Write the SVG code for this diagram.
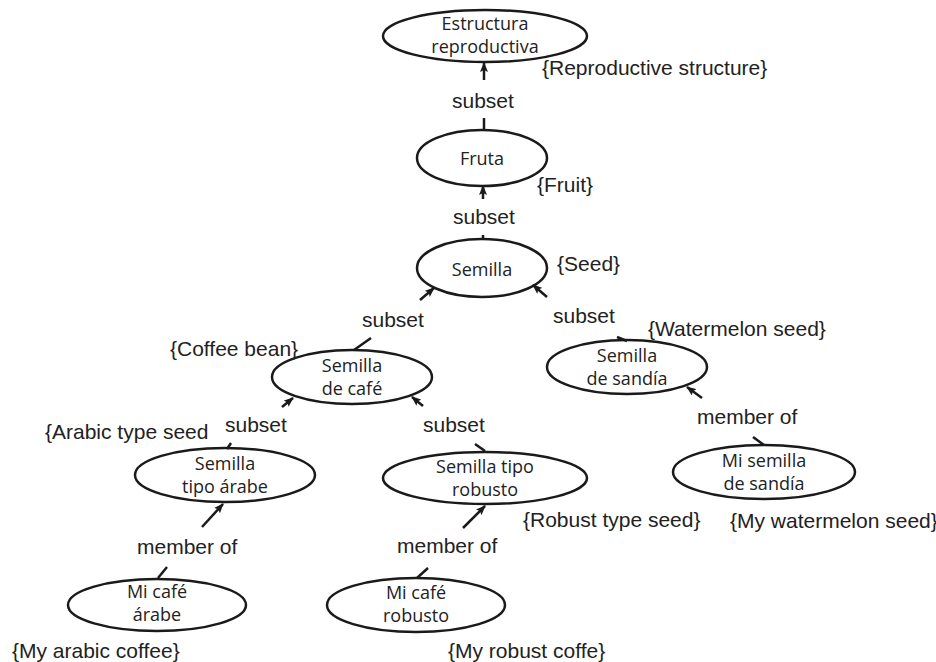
<svg xmlns="http://www.w3.org/2000/svg" width="936" height="662" viewBox="0 0 936 662">
<defs>
<marker id="ah" markerUnits="userSpaceOnUse" markerWidth="10" markerHeight="8" refX="9" refY="4" orient="auto">
<path d="M0,0 L10,4 L0,8 L2,4 Z" fill="#1a1a1a"/>
</marker>
<style>
.n ellipse{fill:#fff;stroke:#1a1a1a;stroke-width:2.5}
.n text{font-family:"Open Sans","Noto Sans",sans-serif;font-size:18px;fill:#222;text-anchor:middle}
.l{font-family:"Liberation Sans",Arial,sans-serif;font-size:21px;fill:#222}
.c line{stroke:#1a1a1a;stroke-width:2.5}
.c .a{marker-end:url(#ah)}
</style>
</defs>
<rect width="936" height="662" fill="#fff"/>

<g id="n1" class="n"><ellipse cx="485" cy="36" rx="102" ry="26"/><text x="485" y="30">Estructura</text><text x="485" y="53">reproductiva</text></g>
<g id="n2" class="n"><ellipse cx="482" cy="158" rx="65" ry="28"/><text x="482" y="165">Fruta</text></g>
<g id="n3" class="n"><ellipse cx="482" cy="268" rx="65" ry="29"/><text x="482" y="276">Semilla</text></g>
<g id="n4" class="n"><ellipse cx="352" cy="377" rx="80" ry="27"/><text x="352" y="372">Semilla</text><text x="352" y="395">de café</text></g>
<g id="n5" class="n"><ellipse cx="627" cy="367" rx="80" ry="27"/><text x="627" y="362">Semilla</text><text x="627" y="385">de sandía</text></g>
<g id="n6" class="n"><ellipse cx="764" cy="472" rx="91" ry="27"/><text x="764" y="467">Mi semilla</text><text x="764" y="490">de sandía</text></g>
<g id="n7" class="n"><ellipse cx="225" cy="475" rx="90" ry="27"/><text x="225" y="470">Semilla</text><text x="225" y="493">tipo árabe</text></g>
<g id="n8" class="n"><ellipse cx="485" cy="478" rx="102" ry="26"/><text x="485" y="473">Semilla tipo</text><text x="485" y="496">robusto</text></g>
<g id="n9" class="n"><ellipse cx="157" cy="605" rx="89" ry="26"/><text x="157" y="598">Mi café</text><text x="157" y="621">árabe</text></g>
<g id="n10" class="n"><ellipse cx="416" cy="605" rx="89" ry="27"/><text x="416" y="599">Mi café</text><text x="416" y="622">robusto</text></g>

<g id="connectors" class="c">
<line class="a" x1="484" y1="80" x2="484" y2="63"/>
<line x1="484" y1="118" x2="484" y2="131"/>
<line class="a" x1="483" y1="199" x2="483" y2="186"/>
<line x1="483" y1="235" x2="483" y2="240"/>
<line class="a" x1="420" y1="300" x2="434" y2="288"/>
<line x1="371" y1="338" x2="354" y2="350"/>
<line class="a" x1="547" y1="297" x2="533" y2="285"/>
<line x1="617" y1="337" x2="627" y2="341"/>
<line class="a" x1="282" y1="407" x2="293" y2="398"/>
<line x1="231" y1="443" x2="227" y2="449"/>
<line class="a" x1="423" y1="406" x2="412" y2="397"/>
<line x1="475" y1="444" x2="485" y2="451"/>
<line class="a" x1="202" y1="527" x2="223" y2="504"/>
<line x1="167" y1="567" x2="158" y2="578"/>
<line class="a" x1="463" y1="528" x2="485" y2="506"/>
<line x1="428" y1="568" x2="417" y2="578"/>
<line class="a" x1="702" y1="398" x2="687" y2="387"/>
<line x1="753" y1="437" x2="764" y2="445"/>
</g>

<g id="labels">
<text class="l" x="542" y="75">{Reproductive structure}</text>
<text class="l" x="452" y="108">subset</text>
<text class="l" x="537" y="192">{Fruit}</text>
<text class="l" x="453" y="224">subset</text>
<text class="l" x="557" y="271">{Seed}</text>
<text class="l" x="362" y="327">subset</text>
<text class="l" x="553" y="323">subset</text>
<text class="l" x="648" y="336">{Watermelon seed}</text>
<text class="l" x="170" y="356">{Coffee bean}</text>
<text class="l" x="225" y="432">subset</text>
<text class="l" x="423" y="432">subset</text>
<text class="l" x="45" y="439">{Arabic type seed</text>
<text class="l" x="697" y="424">member of</text>
<text class="l" x="523" y="527">{Robust type seed}</text>
<text class="l" x="730" y="528">{My watermelon seed}</text>
<text class="l" x="137" y="554">member of</text>
<text class="l" x="397" y="553">member of</text>
<text class="l" x="12" y="658">{My arabic coffee}</text>
<text class="l" x="448" y="658">{My robust coffe}</text>
</g>
</svg>
